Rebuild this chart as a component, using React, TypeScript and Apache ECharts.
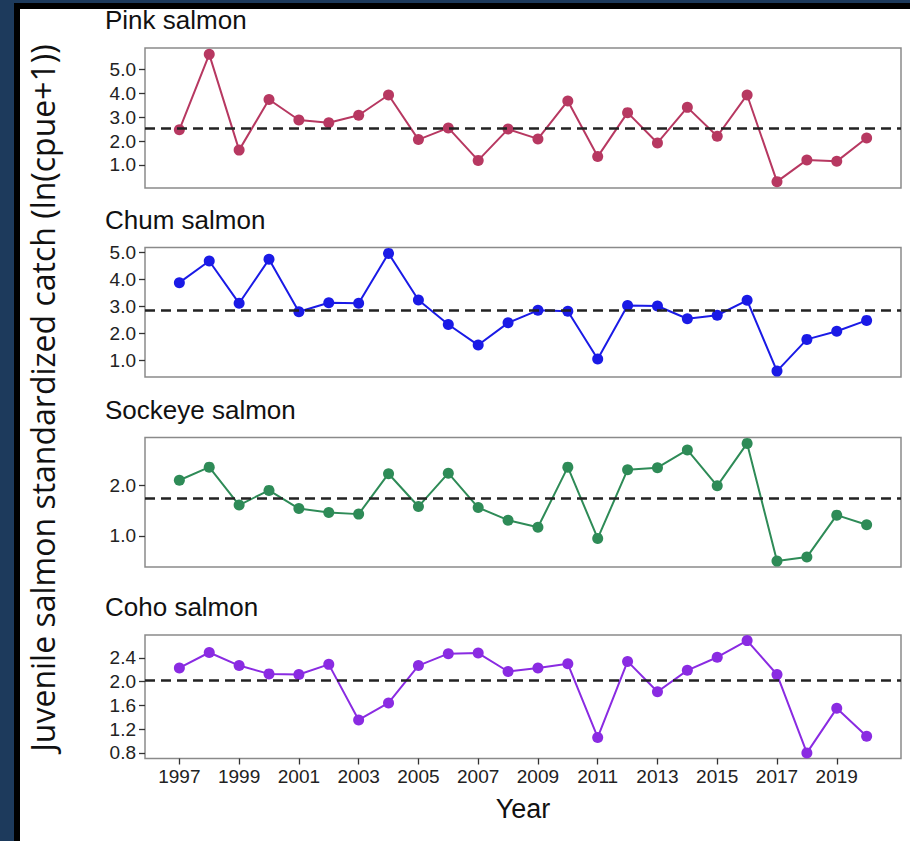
import React, { useEffect, useRef } from "react";
import * as echarts from "echarts";

// Survey years
const years = [
  1997, 1998, 1999, 2000, 2001, 2002, 2003, 2004, 2005, 2006, 2007, 2008,
  2009, 2010, 2011, 2012, 2013, 2014, 2015, 2016, 2017, 2018, 2019, 2020,
];

// Standardized catch, ln(cpue+1), per species
const pinkCatch = [
  2.47, 5.63, 1.62, 3.74, 2.88, 2.77, 3.08, 3.93, 2.06, 2.55, 1.19, 2.5,
  2.09, 3.68, 1.35, 3.19, 1.92, 3.41, 2.2, 3.93, 0.3, 1.21, 1.15, 2.13,
];
const chumCatch = [
  3.87, 4.67, 3.11, 4.73, 2.8, 3.13, 3.11, 4.95, 3.23, 2.33, 1.57, 2.39,
  2.85, 2.82, 1.06, 3.03, 3.01, 2.54, 2.67, 3.22, 0.61, 1.78, 2.08, 2.48,
];
const sockeyeCatch = [
  2.1, 2.36, 1.61, 1.9, 1.54, 1.46, 1.43, 2.23, 1.58, 2.24, 1.56, 1.31,
  1.17, 2.36, 0.95, 2.31, 2.35, 2.7, 1.99, 2.83, 0.5, 0.58, 1.41, 1.22,
];
const cohoCatch = [
  2.23, 2.49, 2.27, 2.13, 2.12, 2.29, 1.355, 1.64, 2.27, 2.47, 2.48, 2.17,
  2.23, 2.3, 1.06, 2.34, 1.83, 2.19, 2.41, 2.69, 2.12, 0.8, 1.55, 1.08,
];

// Tick labels
const pinkTicks = [1, 2, 3, 4, 5];
const chumTicks = [1, 2, 3, 4, 5];
const sockeyeTicks = [1, 2];
const cohoTicks = [0.8, 1.2, 1.6, 2.0, 2.4];
const yearTicks = [
  1997, 1999, 2001, 2003, 2005, 2007, 2009, 2011, 2013, 2015, 2017, 2019,
];

const speciesNames = ["Pink salmon", "Chum salmon", "Sockeye salmon", "Coho salmon"];
const speciesValues = [pinkCatch, chumCatch, sockeyeCatch, cohoCatch];
const speciesTicks = [pinkTicks, chumTicks, sockeyeTicks, cohoTicks];
const speciesColors = ["#b73861", "#1a1ae6", "#2e8b57", "#8a2be2"];

// Panel boxes (top, height) in pixels
const panelBoxes = [
  { top: 48, height: 140 },
  { top: 247.5, height: 129.5 },
  { top: 437.5, height: 129.5 },
  { top: 635, height: 123.5 },
];
const PLOT_LEFT = 145;
const PLOT_WIDTH = 756;

const SANS = "'Liberation Sans', Arial, sans-serif";

const mean = (a: number[]) => a.reduce((s, v) => s + v, 0) / a.length;

// ggplot-style 5% padding around the data range
const expand = (a: number[]) => {
  const lo = Math.min(...a);
  const hi = Math.max(...a);
  const pad = (hi - lo) * 0.05;
  return { min: lo - pad, max: hi + pad };
};

export default function App() {
  const ref = useRef<HTMLDivElement>(null);

  useEffect(() => {
    if (!ref.current) return;
    const chart = echarts.init(ref.current, undefined, { renderer: "svg" });
    const xRange = expand(years);
    const last = speciesNames.length - 1;

    const option: any = {
      animation: false,
      backgroundColor: "transparent",
      grid: panelBoxes.map((b) => ({
        left: PLOT_LEFT,
        width: PLOT_WIDTH,
        top: b.top,
        height: b.height,
        show: true,
        borderColor: "#8a8a8a",
        borderWidth: 1.5,
        backgroundColor: "transparent",
        containLabel: false,
        outerBoundsMode: "none",
      })),
      xAxis: speciesNames.map((_, i) => ({
        type: "value",
        gridIndex: i,
        min: xRange.min,
        max: xRange.max,
        axisLine: { show: false },
        splitLine: { show: false },
        axisTick: {
          show: i === last,
          customValues: yearTicks,
          length: 6,
          lineStyle: { color: "#333", width: 1.3 },
        },
        axisLabel: {
          show: i === last,
          customValues: yearTicks,
          formatter: (v: number) => String(v),
          fontFamily: SANS,
          fontSize: 19,
          color: "#222",
          margin: 8,
        },
        name: i === last ? "Year" : "",
        nameLocation: "middle",
        nameGap: 37,
        nameTextStyle: { fontFamily: SANS, fontSize: 27, color: "#111" },
      })),
      yAxis: speciesNames.map((_, i) => {
        const r = expand(speciesValues[i]);
        return {
          type: "value",
          gridIndex: i,
          min: r.min,
          max: r.max,
          axisLine: { show: false },
          splitLine: { show: false },
          axisTick: {
            show: true,
            customValues: speciesTicks[i],
            length: 6,
            lineStyle: { color: "#333", width: 1.3 },
          },
          axisLabel: {
            customValues: speciesTicks[i],
            formatter: (v: number) => v.toFixed(1),
            fontFamily: SANS,
            fontSize: 19,
            color: "#222",
            margin: 9,
          },
        };
      }),
      series: speciesNames.map((name, i) => ({
        name,
        type: "line",
        xAxisIndex: i,
        yAxisIndex: i,
        data: years.map((y, k) => [y, speciesValues[i][k]]),
        symbol: "circle",
        symbolSize: 11,
        lineStyle: { color: speciesColors[i], width: 2 },
        itemStyle: { color: speciesColors[i] },
        markLine: {
          silent: true,
          symbol: "none",
          label: { show: false },
          lineStyle: { color: "#222", width: 2.5, type: [10, 6] },
          data: [{ yAxis: mean(speciesValues[i]) }],
        },
      })),
      graphic: [
        ...speciesNames.map((name, i) => ({
          type: "text",
          left: 105,
          top: panelBoxes[i].top - 41,
          style: {
            text: name,
            fontFamily: SANS,
            fontSize: 26,
            fill: "#111",
          },
        })),
        {
          type: "text",
          x: 42,
          y: 398,
          rotation: Math.PI / 2,
          style: {
            text: "Juvenile salmon standardized catch (ln(cpue+1))",
            fontFamily: "'Open Sans', sans-serif",
            fontSize: 32,
            fill: "#111",
            align: "center",
            verticalAlign: "middle",
          },
        },
      ],
    };

    chart.setOption(option);
    return () => chart.dispose();
  }, []);

  return (
    <div style={{ position: "absolute", left: 0, top: 0, width: 910, height: 841, background: "#1d3a5c" }}>
      <div style={{ position: "absolute", left: 14, top: 3, right: 0, bottom: 0, background: "#000" }} />
      <div style={{ position: "absolute", left: 20, top: 9, right: 0, bottom: 0, background: "#fff" }} />
      <div ref={ref} style={{ position: "absolute", left: 0, top: 0, width: 910, height: 841 }} />
    </div>
  );
}
